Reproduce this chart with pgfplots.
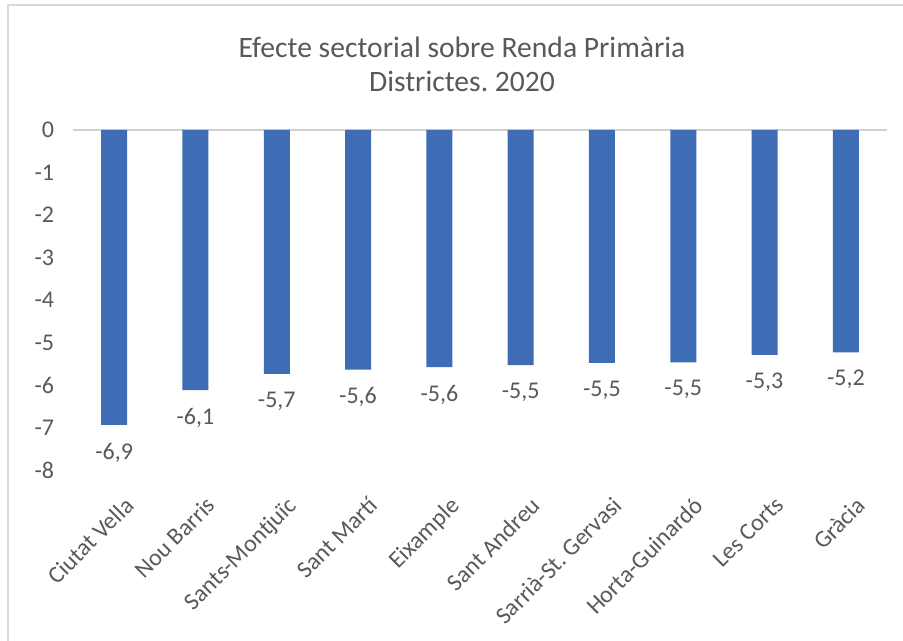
\documentclass[border=0pt]{standalone}
\usepackage{pgfplots}
\pgfplotsset{compat=1.18}
\usepackage{fontspec}
\setmainfont{Carlito}
\frenchspacing
\definecolor{barc}{HTML}{3E6CB5}
\definecolor{txt}{HTML}{595959}
\definecolor{framec}{HTML}{D9D9D9}
\definecolor{axc}{HTML}{D0D0D0}
\begin{document}
\begin{tikzpicture}
\path[use as bounding box] (0,0) rectangle (677.25pt,480.75pt);
\draw[framec,line width=1.5pt] (6pt,0) -- (6pt,477pt) -- (677.25pt,477pt);
\node[txt,align=center,font=\fontsize{22.2}{25}\selectfont] at (346.5pt,432.5pt) {Efecte sectorial sobre Renda Primària\\Districtes.\ 2020};
\begin{axis}[
  at={(55.125pt,128.25pt)}, anchor=south west,
  scale only axis, width=609.75pt, height=255pt,
  xmin=-0.5, xmax=9.5, ymin=-8, ymax=0,
  ytick={0,-1,-2,-3,-4,-5,-6,-7,-8},
  xtick={0,...,9},
  xticklabels={Ciutat Vella,Nou Barris,Sants-Montjuïc,Sant Martí,Eixample,Sant Andreu,Sarrià-St.\ Gervasi,Horta-Guinardó,Les Corts,Gràcia},
  axis line style={draw=none},
  major tick length=0pt,
  tick label style={txt,font=\fontsize{18}{21}\selectfont},
  /pgf/number format/assume math mode=true,
  yticklabel style={xshift=-11pt},
  xticklabel style={rotate=45,anchor=north east,yshift=-15pt,xshift=-5pt},
  ybar, bar width=19.5pt,
  nodes near coords={\pgfmathprintnumber[fixed,precision=1,use comma]{\pgfplotspointmeta}},
  nodes near coords style={txt,font=\fontsize{18}{21}\selectfont,yshift=-10pt},
  clip=false,
]
\draw[axc,line width=1pt] (rel axis cs:0,1) -- (rel axis cs:1,1);
\addplot[fill=barc,draw=none] coordinates {
(0,-6.94) (1,-6.12) (2,-5.74) (3,-5.64) (4,-5.58) (5,-5.53) (6,-5.48) (7,-5.47) (8,-5.29) (9,-5.23)};
\end{axis}
\end{tikzpicture}
\end{document}
